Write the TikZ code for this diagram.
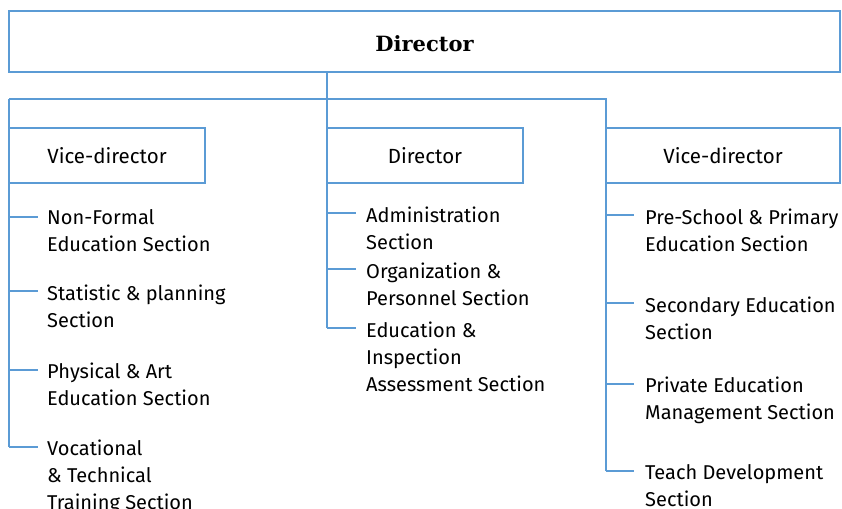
\documentclass[tikz,border=0pt]{standalone}
\usepackage{fontspec}
\setmainfont{Fira Sans}
\newfontfamily\titlefont{DejaVu Serif}
\definecolor{lineblue}{HTML}{5B9BD5}
\begin{document}
\begin{tikzpicture}[x=1pt,y=-1pt,
  conn/.style={draw=lineblue,line width=1.2pt},
  boxnode/.style={draw=lineblue,line width=1.2pt,inner sep=0pt,font=\fontsize{20.5}{24}\selectfont},
  sect/.style={anchor=north west,inner sep=0pt,align=left,font=\fontsize{20}{27}\selectfont}]
\useasboundingbox (0,0) rectangle (842,508);
% top box
\node[boxnode,minimum width=831pt,minimum height=61pt,text height=20pt,font=\titlefont\bfseries\fontsize{21}{24}\selectfont] (top) at (424.5,41.5) {Director};
% second level boxes
\node[boxnode,minimum width=196pt,minimum height=55pt] (vl) at (107,155.5) {Vice-director};
\node[boxnode,minimum width=196pt,minimum height=55pt] (dm) at (425,155.5) {Director};
\node[boxnode,minimum width=234pt,minimum height=55pt] (vr) at (723,155.5) {Vice-director};
% coordinates
\coordinate (tc) at (327,72);
\coordinate (hl) at (9,99);
\coordinate (hm) at (327,99);
\coordinate (hr) at (606,99);
\coordinate (l1) at (9,217); \coordinate (l2) at (9,291); \coordinate (l3) at (9,370); \coordinate (l4) at (9,447);
\coordinate (m1) at (327,213); \coordinate (m2) at (327,269); \coordinate (m3) at (327,328);
\coordinate (r1) at (606,215); \coordinate (r2) at (606,303); \coordinate (r3) at (606,384); \coordinate (r4) at (606,471);
% section nodes
\node[sect] (s1) at (47,209.5) {Non-Formal\\Education Section};
\node[sect] (s2) at (47,284.5) {Statistic \& planning\\Section};
\node[sect] (s3) at (47,362.5) {Physical \& Art\\Education Section};
\node[sect] (s4) at (47,439.5) {Vocational\\\& Technical\\Training Section};
\node[sect] (t1) at (366,206.5) {Administration\\Section};
\node[sect] (t2) at (366,262.5) {Organization \&\\Personnel Section};
\node[sect] (t3) at (366,321.5) {Education \&\\Inspection\\Assessment Section};
\node[sect] (u1) at (645,208.5) {Pre-School \& Primary\\Education Section};
\node[sect] (u2) at (645,296.5) {Secondary Education\\Section};
\node[sect] (u3) at (645,376.5) {Private Education\\Management Section};
\node[sect] (u4) at (645,464.5) {Teach Development\\Section};
% connectors
\draw[conn] (tc) -- (hm) -- (m3);
\draw[conn] (hl) -- (hr) -- (r4);
\draw[conn] (hl) -- (l4);
\foreach \c in {l1,l2,l3,l4}{\draw[conn] (\c) -- ++(29,0);}
\foreach \c in {m1,m2,m3}{\draw[conn] (\c) -- ++(29,0);}
\foreach \c in {r1,r2,r3,r4}{\draw[conn] (\c) -- ++(28,0);}
\end{tikzpicture}
\end{document}
